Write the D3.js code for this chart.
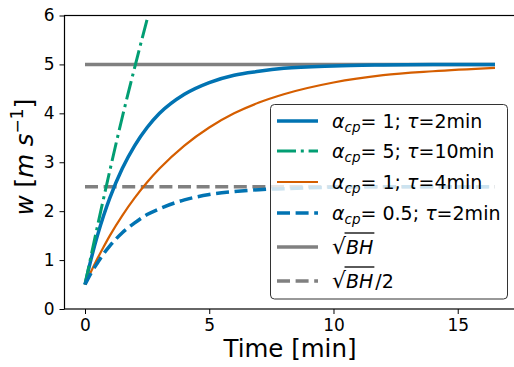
<!DOCTYPE html>
<html>
<head>
<meta charset="utf-8">
<script src="https://cdn.jsdelivr.net/npm/d3@7"></script>
<style>
  body { margin: 0; background: #fff; }
  svg { font-family: "DejaVu Sans", sans-serif; }
</style>
</head>
<body>
<svg id="chart" width="514" height="367"></svg>
<script>
// time samples (min)
const times = [0, 0.25, 0.5, 0.75, 1, 1.5, 2, 2.5, 3, 4, 5, 6, 7, 8, 10, 12, 14, 16.5];
const wA1T2 = [0.5, 1.03, 1.50, 1.91, 2.27, 2.87, 3.34, 3.71, 4.00, 4.39, 4.63, 4.78, 4.86, 4.92, 4.97, 4.99, 5.0, 5.0];
const wA1T4 = [0.5, 0.77, 1.03, 1.27, 1.50, 1.91, 2.27, 2.59, 2.87, 3.34, 3.71, 4.00, 4.22, 4.39, 4.63, 4.78, 4.86, 4.93];
const wA05T2 = [0.5, 0.74, 0.94, 1.13, 1.29, 1.56, 1.76, 1.93, 2.05, 2.23, 2.34, 2.40, 2.44, 2.46, 2.49, 2.5, 2.5, 2.5];
// green one leaves the top of the plot
const timesA5 = [0, 0.5, 1, 1.5, 2, 2.5, 2.6];
const wA5T10 = [0.5, 1.69, 2.83, 3.92, 4.94, 5.92, 6.11];
// reference levels
const sqrtBH = 5;
const halfSqrtBH = 2.5;
const tEnd = 16.5;

const xTicks = [0, 5, 10, 15];
const yTicks = [0, 1, 2, 3, 4, 5, 6];

const svg = d3.select("#chart");
const mLeft = 64.5, mRight = 515.5, mTop = 15.5, mBottom = 309;

const x = d3.scaleLinear().domain([-0.825, 17.325]).range([mLeft, mRight]);
const y = d3.scaleLinear().domain([0, 6]).range([mBottom, mTop]);

svg.append("clipPath").attr("id", "clip")
  .append("rect").attr("x", mLeft).attr("y", mTop)
  .attr("width", mRight - mLeft).attr("height", mBottom - mTop);

const plot = svg.append("g").attr("clip-path", "url(#clip)");

const line = d3.line()
  .x(d => x(d[0]))
  .y(d => y(d[1]))
  .curve(d3.curveMonotoneX);

const grey = "#808080";
const blue = "#0173b2", green = "#029e73", orange = "#d55e00";
const dashed = "13,5.6";
const dashDot = "19,4.8,3,4.8";

const series = [
  {t: [0, tEnd], w: [sqrtBH, sqrtBH], color: grey, width: 3.5, dash: null},
  {t: [0, tEnd], w: [halfSqrtBH, halfSqrtBH], color: grey, width: 3.5, dash: dashed},
  {t: times, w: wA1T2, color: blue, width: 3.5, dash: null},
  {t: timesA5, w: wA5T10, color: green, width: 3, dash: dashDot},
  {t: times, w: wA1T4, color: orange, width: 2.2, dash: null},
  {t: times, w: wA05T2, color: blue, width: 3.5, dash: dashed}
];

series.forEach(s => {
  plot.append("path")
    .datum(s.t.map((t, i) => [t, s.w[i]]))
    .attr("d", line)
    .attr("fill", "none")
    .attr("stroke", s.color)
    .attr("stroke-width", s.width)
    .attr("stroke-dasharray", s.dash);
});

// axes
const xAxis = svg.append("g")
  .attr("transform", `translate(0,${mBottom})`)
  .call(d3.axisBottom(x).tickValues(xTicks).tickFormat(d3.format("d")).tickSize(5).tickPadding(5));
const yAxis = svg.append("g")
  .attr("transform", `translate(${mLeft},0)`)
  .call(d3.axisLeft(y).tickValues(yTicks).tickFormat(d3.format("d")).tickSize(5).tickPadding(5));

[xAxis, yAxis].forEach(g => {
  g.select(".domain").remove();
  g.selectAll("line").attr("stroke", "#000").attr("stroke-width", 1);
  g.selectAll("text").attr("font-size", 17).attr("fill", "#000")
    .attr("font-family", "DejaVu Sans");
});

// spines
svg.append("rect")
  .attr("x", mLeft).attr("y", mTop)
  .attr("width", mRight - mLeft).attr("height", mBottom - mTop)
  .attr("fill", "none").attr("stroke", "#000").attr("stroke-width", 1.2);

// axis labels
svg.append("text")
  .attr("x", (mLeft + mRight) / 2).attr("y", 357)
  .attr("text-anchor", "middle")
  .attr("font-size", 24.5)
  .text("Time [min]");

const yl = svg.append("text")
  .attr("transform", `translate(33,157) rotate(-90)`)
  .attr("text-anchor", "middle")
  .attr("font-size", 24.5);
yl.append("tspan").attr("font-style", "italic").text("w");
yl.append("tspan").text(" [");
yl.append("tspan").attr("font-style", "italic").text("m s");
yl.append("tspan").attr("font-size", 17).attr("dy", -10).text("−1");
yl.append("tspan").attr("dy", 10).text("]");

// legend
const legend = svg.append("g");
legend.append("rect")
  .attr("x", 270.5).attr("y", 104.5)
  .attr("width", 237).attr("height", 194.5)
  .attr("rx", 4)
  .attr("fill", "#fff").attr("fill-opacity", 0.8)
  .attr("stroke", "#333").attr("stroke-width", 1);

const legendRows = [
  {alpha: "1", tau: "2", color: blue, width: 3.5, dash: null},
  {alpha: "5", tau: "10", color: green, width: 3, dash: dashDot},
  {alpha: "1", tau: "4", color: orange, width: 2.2, dash: null},
  {alpha: "0.5", tau: "2", color: blue, width: 3.5, dash: dashed}
];
const rowY = [121, 151, 182, 213, 247, 281];

legendRows.forEach((r, i) => {
  legend.append("line")
    .attr("x1", 277).attr("x2", 318)
    .attr("y1", rowY[i]).attr("y2", rowY[i])
    .attr("stroke", r.color).attr("stroke-width", r.width)
    .attr("stroke-dasharray", r.dash);
  const t = legend.append("text")
    .attr("x", 332).attr("y", rowY[i] + 6.5)
    .attr("font-size", 19);
  t.append("tspan").attr("font-style", "italic").text("α");
  t.append("tspan").attr("font-style", "italic").attr("font-size", 13.5).attr("dy", 4).text("cp");
  t.append("tspan").attr("dy", -4).text("= " + r.alpha + "; ");
  t.append("tspan").attr("font-style", "italic").text("τ");
  t.append("tspan").text("=" + r.tau + "min");
});

// sqrt(BH) entries
[{dash: null, suffix: ""}, {dash: dashed, suffix: "/2"}].forEach((r, k) => {
  const yy = rowY[4 + k];
  legend.append("line")
    .attr("x1", 277).attr("x2", 318)
    .attr("y1", yy).attr("y2", yy)
    .attr("stroke", grey).attr("stroke-width", 3.5)
    .attr("stroke-dasharray", r.dash);
  const t = legend.append("text")
    .attr("x", 332).attr("y", yy + 7)
    .attr("font-size", 19);
  const rad = t.append("tspan").attr("font-size", 22).text("√");
  const bh = t.append("tspan").attr("font-style", "italic").text("BH");
  t.append("tspan").attr("dx", 2).text(r.suffix);
  const radW = rad.node().getComputedTextLength();
  const bhW = bh.node().getComputedTextLength();
  legend.append("line")
    .attr("x1", 332 + radW - 1.5).attr("x2", 332 + radW + bhW + 1)
    .attr("y1", yy - 14).attr("y2", yy - 14)
    .attr("stroke", "#000").attr("stroke-width", 1.3);
});
</script>
</body>
</html>
